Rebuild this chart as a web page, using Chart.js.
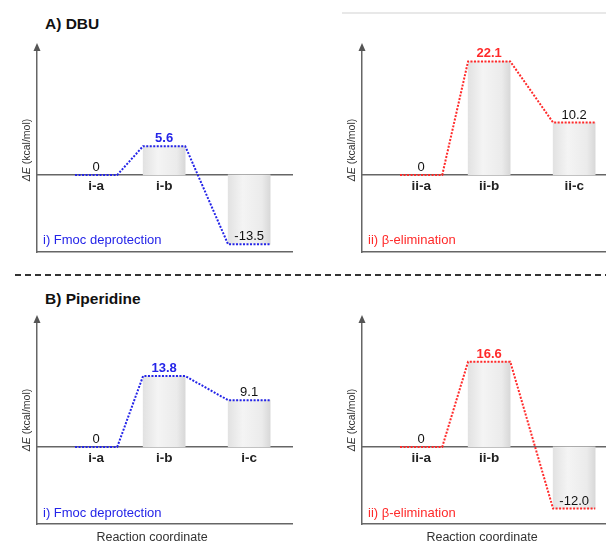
<!DOCTYPE html>
<html>
<head>
<meta charset="utf-8">
<script src="https://cdn.jsdelivr.net/npm/chart.js@4"></script>
<style>
  html, body { margin: 0; padding: 0; background: #fff; }
  body { position: relative; width: 606px; height: 546px; overflow: hidden; font-family: 'Liberation Sans', Arial, sans-serif; }
  .box { position: absolute; width: 275px; height: 225px; }
  .t { position: absolute; white-space: nowrap; color: #111; }
  .head { font-size: 15.5px; font-weight: bold; }
  .cap { font-size: 13px; }
  .ylab { font-size: 10.5px; color: #333; transform: translate(-50%, -50%) rotate(-90deg); }
  .xlab { font-size: 12.5px; color: #333; transform: translateX(-50%); }
  .dash { position: absolute; left: 15px; top: 274px; width: 600px; height: 2px;
          background: repeating-linear-gradient(90deg, #333 0 6px, transparent 6px 10px); }
  .rule { position: absolute; left: 342px; top: 12px; width: 270px; height: 2px; background: #e8e8e8; }
</style>
</head>
<body>
<div class="rule"></div>
<div class="t head" style="left:45px; top:15px;">A) DBU</div>
<div class="dash"></div>
<div class="t head" style="left:45px; top:290px;">B) Piperidine</div>

<div class="box" style="left:27px; top:37px;"><canvas id="cA1"></canvas></div>
<div class="box" style="left:352px; top:37px;"><canvas id="cA2"></canvas></div>
<div class="box" style="left:27px; top:309px;"><canvas id="cB1"></canvas></div>
<div class="box" style="left:352px; top:309px;"><canvas id="cB2"></canvas></div>

<div class="t ylab" style="left:26px; top:150px;"><i>ΔE</i> (kcal/mol)</div>
<div class="t ylab" style="left:351px; top:150px;"><i>ΔE</i> (kcal/mol)</div>
<div class="t ylab" style="left:26px; top:420px;"><i>ΔE</i> (kcal/mol)</div>
<div class="t ylab" style="left:351px; top:420px;"><i>ΔE</i> (kcal/mol)</div>

<div class="t cap" style="left:43px; top:232px; color:#2424e8;">i) Fmoc deprotection</div>
<div class="t cap" style="left:368px; top:232px; color:#ff2a2a;">ii) β-elimination</div>
<div class="t cap" style="left:43px; top:505px; color:#2424e8;">i) Fmoc deprotection</div>
<div class="t cap" style="left:368px; top:505px; color:#ff2a2a;">ii) β-elimination</div>

<div class="t xlab" style="left:152px; top:530px;">Reaction coordinate</div>
<div class="t xlab" style="left:482px; top:530px;">Reaction coordinate</div>

<script>
// stages along the reaction coordinate
const stagesI = ['i-a', 'i-b', 'i-c'];
const stagesII = ['ii-a', 'ii-b', 'ii-c'];
const coord = [0, 1, 2.25];

// relative energies, kcal/mol
const dbuFmoc = [0, 5.6, -13.5];
const dbuBeta = [0, 22.1, 10.2];
const pipFmoc = [0, 13.8, 9.1];
const pipBeta = [0, 16.6, -12.0];

const BLUE = '#2424e8', RED = '#ff2a2a';
const BAR_W = 42;      // px, width of a level
const HALF = 0.31;     // half a level in x units
const FONT = "'Liberation Sans', Arial, sans-serif";

function barFill(c) {
  const chart = c.chart, raw = c.raw;
  if (!raw || !chart.chartArea) return '#ececec';
  const cx = chart.scales.x.getPixelForValue(raw.x);
  const g = chart.ctx.createLinearGradient(cx - BAR_W / 2, 0, cx + BAR_W / 2, 0);
  g.addColorStop(0, '#e2e2e2');
  g.addColorStop(0.35, '#f4f4f4');
  g.addColorStop(0.8, '#ebebeb');
  g.addColorStop(1, '#d8d8d8');
  return g;
}

// values above each level + arrow head on the y axis
const extras = {
  id: 'extras',
  afterDatasetsDraw(chart) {
    const { ctx, chartArea: a, scales: { x, y } } = chart;
    const o = chart.options.plugins.extras;
    ctx.save();
    ctx.textAlign = 'center';
    ctx.textBaseline = 'alphabetic';
    o.values.forEach((v, i) => {
      const px = x.getPixelForValue(coord[i]);
      const py = y.getPixelForValue(v);
      const hi = i === 1;
      ctx.font = (hi ? 'bold ' : '') + '13px ' + FONT;
      ctx.fillStyle = hi ? o.color : '#111';
      ctx.fillText(v === 0 ? '0' : v.toFixed(1), px, py - 4);
    });
    ctx.fillStyle = '#555';
    ctx.beginPath();
    ctx.moveTo(a.left, a.top - 4);
    ctx.lineTo(a.left - 3.5, a.top + 4);
    ctx.lineTo(a.left + 3.5, a.top + 4);
    ctx.closePath();
    ctx.fill();
    ctx.restore();
  }
};

function draw(id, stages, values, color) {
  const path = [];
  values.forEach((v, i) => {
    path.push({ x: coord[i] - HALF, y: v }, { x: coord[i] + HALF, y: v });
  });
  const bars = values.map((v, i) => ({ x: coord[i], y: [0, v] })).filter((d) => d.y[1] !== 0);

  new Chart(document.getElementById(id), {
    type: 'bar',
    data: {
      datasets: [
        {
          type: 'line', data: path, order: 0,
          borderColor: color, borderWidth: 2, borderDash: [2, 1.5],
          pointRadius: 0, tension: 0, fill: false,
        },
        {
          type: 'bar', data: bars, order: 1, grouped: false,
          barThickness: BAR_W, backgroundColor: barFill, borderWidth: 0,
        },
      ],
    },
    options: {
      responsive: true, maintainAspectRatio: false, animation: false,
      layout: { padding: 10 },
      events: [],
      plugins: {
        legend: { display: false }, tooltip: { enabled: false },
        extras: { values, color },
      },
      scales: {
        x: {
          type: 'linear', min: -0.87, max: 2.88, position: { y: 0 }, offset: false,
          grid: { display: false, drawTicks: false, offset: false },
          border: { color: '#666', width: 1.5 },
          afterBuildTicks: (s) => { s.ticks = coord.map((c) => ({ value: c })); },
          ticks: {
            autoSkip: false, padding: 3, color: '#222',
            font: { family: FONT, size: 13.5, weight: 'bold' },
            callback: (v, i) => stages[i],
          },
        },
        xb: {
          axis: 'x', type: 'linear', min: -0.87, max: 2.88, position: 'bottom', offset: false,
          grid: { display: false, drawTicks: false, offset: false },
          border: { color: '#666', width: 1.5 },
          ticks: { display: false },
        },
        y: {
          min: -15, max: 24.9,
          grid: { display: false, drawTicks: false },
          border: { color: '#666', width: 1.5 },
          ticks: { display: false },
        },
      },
    },
    plugins: [extras],
  });
}

draw('cA1', stagesI, dbuFmoc, BLUE);
draw('cA2', stagesII, dbuBeta, RED);
draw('cB1', stagesI, pipFmoc, BLUE);
draw('cB2', stagesII, pipBeta, RED);
</script>
</body>
</html>
